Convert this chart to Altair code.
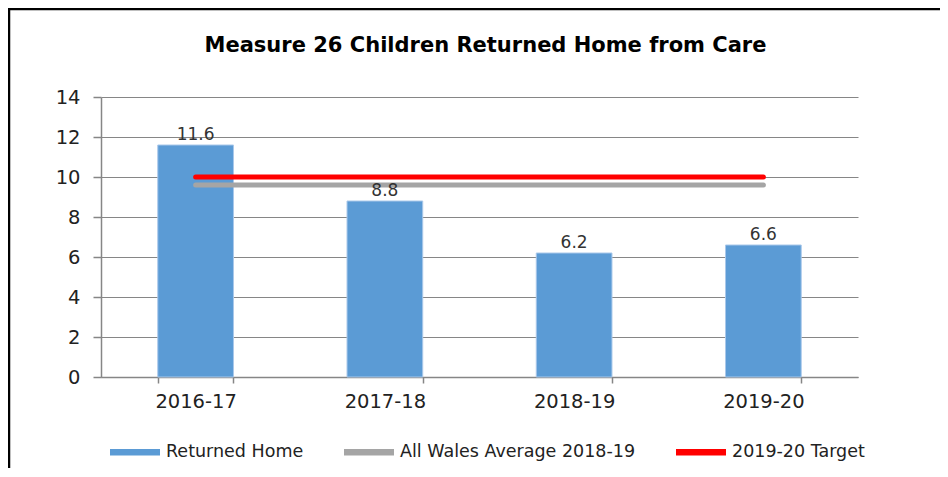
import altair as alt
import pandas as pd

years = ["2016-17", "2017-18", "2018-19", "2019-20"]
returned_home = [11.6, 8.8, 6.2, 6.6]
wales_average = [9.6, 9.6, 9.6, 9.6]
target = [10, 10, 10, 10]
series_names = ["Returned Home", "All Wales Average 2018-19", "2019-20 Target"]
series_colors = ["#5B9BD5", "#A5A5A5", "#FF0000"]

bars_df = pd.DataFrame({"year": years, "value": returned_home, "series": series_names[0]})
avg_df = pd.DataFrame({"year": years, "value": wales_average, "series": series_names[1]})
tgt_df = pd.DataFrame({"year": years, "value": target, "series": series_names[2]})

FONT = "DejaVu Sans"

x_enc = alt.X(
    "year:N",
    sort=years,
    title=None,
    scale=alt.Scale(paddingInner=0.6, paddingOuter=0.3),
    axis=alt.Axis(
        labelAngle=0,
        tickBand="extent",
        tickSize=6,
        tickColor="#868686",
        tickWidth=1.5,
        domainColor="#868686",
        domainWidth=1.5,
        labelFont=FONT,
        labelFontSize=19.5,
        labelColor="#222222",
        labelPadding=9,
        grid=False,
    ),
)
y_enc = alt.Y(
    "value:Q",
    title=None,
    scale=alt.Scale(domain=[0, 14]),
    axis=alt.Axis(
        values=[0, 2, 4, 6, 8, 10, 12, 14],
        labelOverlap=False,
        tickSize=8,
        tickColor="#868686",
        tickWidth=1.5,
        domainColor="#868686",
        domainWidth=1.5,
        gridColor="#868686",
        gridWidth=1.2,
        labelFont=FONT,
        labelFontSize=19.5,
        labelColor="#222222",
        labelPadding=13,
    ),
)

color_scale = alt.Scale(domain=series_names, range=series_colors)

legend = alt.Legend(
    title=None,
    orient="none",
    direction="horizontal",
    legendX=9,
    legendY=330,
    symbolSize=2500,
    symbolType="M-1,-0.13H1V0.13H-1Z",
    labelFont=FONT,
    labelFontSize=17.5,
    labelColor="#222222",
    labelOffset=6,
    labelLimit=400,
    columnPadding=40,
    symbolStrokeWidth=0,
    symbolOpacity=1,
)

bars = alt.Chart(bars_df).mark_bar(stroke="#A9C8EA", strokeWidth=1).encode(
    x=x_enc,
    y=y_enc,
    color=alt.Color("series:N", scale=color_scale, legend=legend),
)

avg_line = alt.Chart(avg_df).mark_line(strokeWidth=5, strokeCap="round").encode(
    x=x_enc,
    y=y_enc,
    color=alt.Color("series:N", scale=color_scale, legend=None),
)

tgt_line = alt.Chart(tgt_df).mark_line(strokeWidth=5, strokeCap="round").encode(
    x=x_enc,
    y=y_enc,
    color=alt.Color("series:N", scale=color_scale, legend=None),
)

labels = alt.Chart(bars_df).mark_text(
    font=FONT, fontSize=17, color="#333333", baseline="alphabetic", dy=-5
).encode(
    x=x_enc,
    y=y_enc,
    text=alt.Text("value:Q", format=".1f"),
)

frame_df = pd.DataFrame({"k": [0]})
left_border = alt.Chart(frame_df).mark_rule(color="black", strokeWidth=2.5).encode(
    x=alt.value(-92), y=alt.value(-89), y2=alt.value(380)
)
top_border = alt.Chart(frame_df).mark_rule(color="black", strokeWidth=2.5).encode(
    x=alt.value(-93), x2=alt.value(850), y=alt.value(-88)
)

chart = (
    alt.layer(bars, avg_line, tgt_line, labels, left_border, top_border)
    .properties(
        width=757,
        height=280,
        title=alt.Title(
            "Measure 26 Children Returned Home from Care",
            font=FONT,
            fontSize=21,
            fontWeight="bold",
            color="#000000",
            anchor="middle",
            offset=-49,
            dx=6,
        ),
        autosize=alt.AutoSizeParams(type="none"),
        padding={"left": 93, "top": 89, "right": 82, "bottom": 91},
    )
    .configure_view(stroke=None)
)

chart.save("out.html", embed_options={"renderer": "svg", "actions": False})
